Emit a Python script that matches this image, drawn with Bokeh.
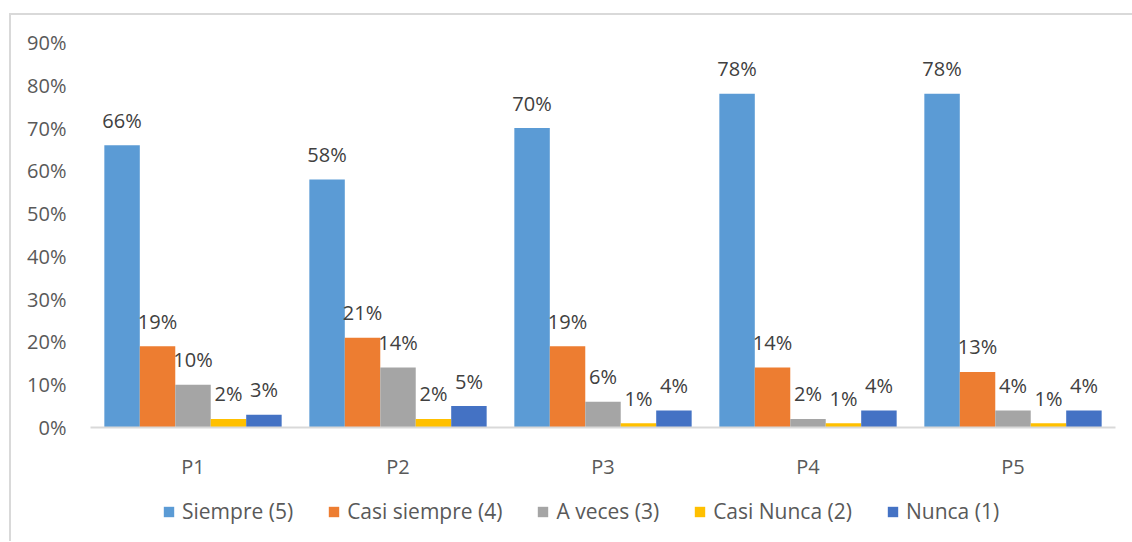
from bokeh.plotting import figure
from bokeh.layouts import column
from bokeh.models import (ColumnDataSource, FactorRange, Range1d, NumeralTickFormatter,
                          FixedTicker, Legend, LegendItem)
from bokeh.transform import dodge
from bokeh.core.properties import value
from bokeh.embed import file_html
from bokeh.resources import INLINE

# Questions and answer shares (fractions)
preguntas = ["P1", "P2", "P3", "P4", "P5"]
siempre = [0.66, 0.58, 0.70, 0.78, 0.78]
casi_siempre = [0.19, 0.21, 0.19, 0.14, 0.13]
a_veces = [0.10, 0.14, 0.06, 0.02, 0.04]
casi_nunca = [0.02, 0.02, 0.01, 0.01, 0.01]
nunca = [0.03, 0.05, 0.04, 0.04, 0.04]

series_names = ["Siempre (5)", "Casi siempre (4)", "A veces (3)", "Casi Nunca (2)", "Nunca (1)"]
series_values = [siempre, casi_siempre, a_veces, casi_nunca, nunca]
colors = ["#5B9BD5", "#ED7D31", "#A5A5A5", "#FFC000", "#4472C4"]

FONT = "Open Sans"
bar_w = 0.173
offsets = [-2 * bar_w, -bar_w, 0.0, bar_w, 2 * bar_w]

# ---- main bar chart ----
p = figure(width=1121, height=472, x_range=FactorRange(*preguntas, range_padding=0),
           y_range=Range1d(0, 0.9), output_backend="svg", toolbar_location=None,
           min_border_left=79, min_border_right=17, min_border_top=27, min_border_bottom=60)

p.outline_line_color = None
p.xgrid.grid_line_color = None
p.ygrid.grid_line_color = None
p.background_fill_color = "white"
p.border_fill_color = "white"

# y axis: percentage labels only
p.yaxis.ticker = FixedTicker(ticks=[i / 10 for i in range(10)])
p.yaxis.formatter = NumeralTickFormatter(format="0%")
p.yaxis.axis_line_color = None
p.yaxis.major_tick_line_color = None
p.yaxis.minor_tick_line_color = None
p.yaxis.major_label_standoff = 18
p.yaxis.major_label_text_font = FONT
p.yaxis.major_label_text_font_size = "20px"
p.yaxis.major_label_text_color = "#595959"

# x axis: category names under a light baseline
p.xaxis.axis_line_color = "#D9D9D9"
p.xaxis.axis_line_width = 2
p.xaxis.major_tick_line_color = None
p.xaxis.minor_tick_line_color = None
p.xaxis.major_label_standoff = 19
p.xaxis.major_label_text_font = FONT
p.xaxis.major_label_text_font_size = "20px"
p.xaxis.major_label_text_color = "#595959"

for name, vals, col, off in zip(series_names, series_values, colors, offsets):
    src = ColumnDataSource(dict(x=preguntas, y=vals, lbl=[f"{round(v * 100)}%" for v in vals]))
    p.vbar(x=dodge("x", off, range=p.x_range), top="y", width=bar_w, source=src,
           fill_color=col, line_color=None)
    p.text(x=dodge("x", off, range=p.x_range), y="y", text="lbl", source=src,
           text_align="center", text_baseline="alphabetic", y_offset=-25,
           text_font=value(FONT), text_font_size="20px", text_color="#404040")

# ---- legend strip under the chart (frame edges line up with the chart above) ----
leg = figure(width=1121, height=54, output_backend="svg", toolbar_location=None,
             x_range=Range1d(0, 1), y_range=Range1d(0, 1),
             x_axis_location=None, y_axis_location=None,
             min_border_left=79, min_border_right=17, min_border_top=0, min_border_bottom=6)
leg.outline_line_color = None
leg.xgrid.grid_line_color = None
leg.ygrid.grid_line_color = None
leg.border_fill_color = "white"

items = []
for name, col in zip(series_names, colors):
    # swatch-only renderer: a zero-height bar, so nothing shows in the strip itself
    r = leg.vbar(x=[0.5], top=[0], bottom=[0], width=0.1, fill_color=col, line_color=None)
    items.append(LegendItem(label=name, renderers=[r]))

legend = Legend(items=items, orientation="horizontal", location=(72, 10),
                glyph_width=13, glyph_height=13, label_standoff=7, spacing=34,
                padding=6, margin=0, border_line_color=None, background_fill_alpha=0,
                label_text_font=FONT, label_text_font_size="21px",
                label_text_color="#595959")
leg.add_layout(legend)

# light frame line along the top and left of the chart area
layout = column(p, leg, spacing=0,
                styles={"margin-left": "9px", "margin-top": "13px",
                        "border-top": "2px solid #D9D9D9", "border-left": "2px solid #D9D9D9"})

open("out.html", "w").write(file_html(layout, INLINE))
